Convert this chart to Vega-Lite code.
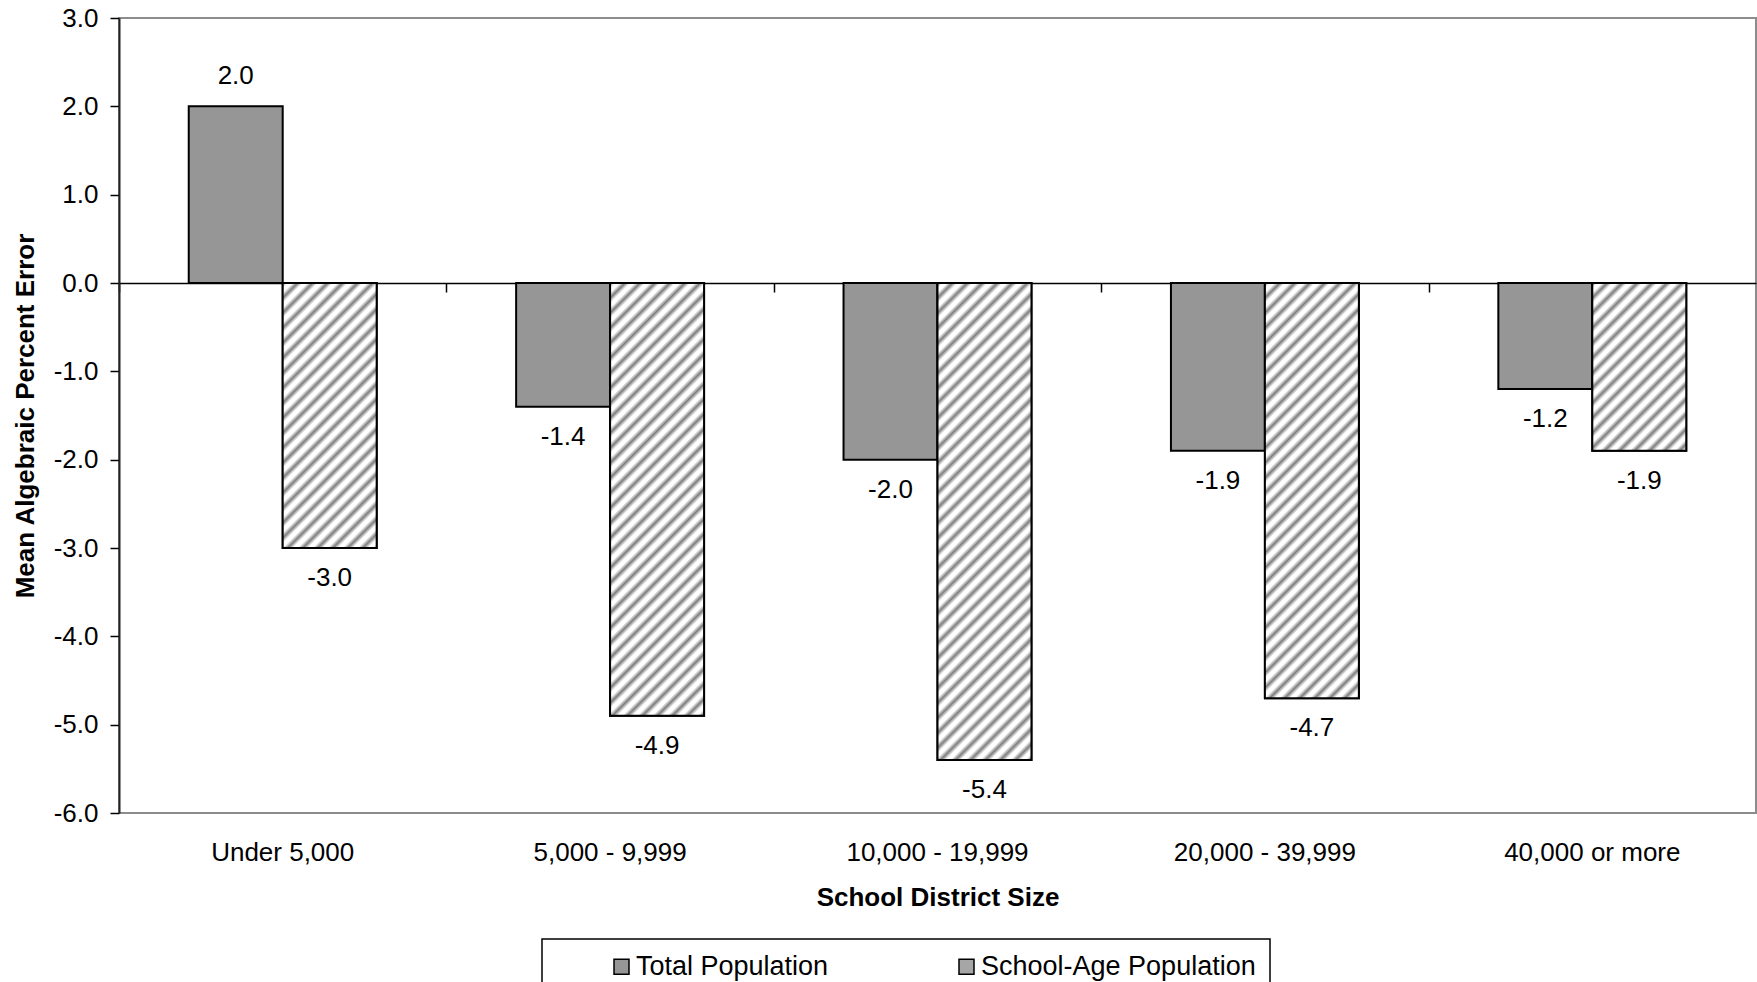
{
  "$schema": "https://vega.github.io/schema/vega-lite/v6.json",
  "width": 1637,
  "height": 795,
  "autosize": {"type": "none"},
  "padding": {"left": 119, "top": 18, "right": 1, "bottom": 169},
  "background": "white",
  "config": {
    "font": "Liberation Sans",
    "view": {"stroke": "#8c8c8c", "strokeWidth": 2},
    "axis": {"labelColor": "black", "titleColor": "black", "grid": false},
    "locale": {"number": {"decimal": ".", "thousands": ",", "grouping": [3], "currency": ["$", ""], "minus": "-"}}
  },
  "params": [
    {
      "name": "hatchStops",
      "value": [
        {"offset": 0, "color": "#7d7d7d"}, {"offset": 0.007, "color": "#ffffff"}, {"offset": 0.013, "color": "#ffffff"},
        {"offset": 0.02, "color": "#7d7d7d"}, {"offset": 0.027, "color": "#ffffff"}, {"offset": 0.033, "color": "#ffffff"},
        {"offset": 0.04, "color": "#7d7d7d"}, {"offset": 0.047, "color": "#ffffff"}, {"offset": 0.053, "color": "#ffffff"},
        {"offset": 0.06, "color": "#7d7d7d"}, {"offset": 0.067, "color": "#ffffff"}, {"offset": 0.073, "color": "#ffffff"},
        {"offset": 0.08, "color": "#7d7d7d"}, {"offset": 0.087, "color": "#ffffff"}, {"offset": 0.093, "color": "#ffffff"},
        {"offset": 0.1, "color": "#7d7d7d"}, {"offset": 0.107, "color": "#ffffff"}, {"offset": 0.113, "color": "#ffffff"},
        {"offset": 0.12, "color": "#7d7d7d"}, {"offset": 0.127, "color": "#ffffff"}, {"offset": 0.133, "color": "#ffffff"},
        {"offset": 0.14, "color": "#7d7d7d"}, {"offset": 0.147, "color": "#ffffff"}, {"offset": 0.153, "color": "#ffffff"},
        {"offset": 0.16, "color": "#7d7d7d"}, {"offset": 0.167, "color": "#ffffff"}, {"offset": 0.173, "color": "#ffffff"},
        {"offset": 0.18, "color": "#7d7d7d"}, {"offset": 0.187, "color": "#ffffff"}, {"offset": 0.193, "color": "#ffffff"},
        {"offset": 0.2, "color": "#7d7d7d"}, {"offset": 0.207, "color": "#ffffff"}, {"offset": 0.213, "color": "#ffffff"},
        {"offset": 0.22, "color": "#7d7d7d"}, {"offset": 0.227, "color": "#ffffff"}, {"offset": 0.233, "color": "#ffffff"},
        {"offset": 0.24, "color": "#7d7d7d"}, {"offset": 0.247, "color": "#ffffff"}, {"offset": 0.253, "color": "#ffffff"},
        {"offset": 0.26, "color": "#7d7d7d"}, {"offset": 0.267, "color": "#ffffff"}, {"offset": 0.273, "color": "#ffffff"},
        {"offset": 0.28, "color": "#7d7d7d"}, {"offset": 0.287, "color": "#ffffff"}, {"offset": 0.293, "color": "#ffffff"},
        {"offset": 0.3, "color": "#7d7d7d"}, {"offset": 0.307, "color": "#ffffff"}, {"offset": 0.313, "color": "#ffffff"},
        {"offset": 0.32, "color": "#7d7d7d"}, {"offset": 0.327, "color": "#ffffff"}, {"offset": 0.333, "color": "#ffffff"},
        {"offset": 0.34, "color": "#7d7d7d"}, {"offset": 0.347, "color": "#ffffff"}, {"offset": 0.353, "color": "#ffffff"},
        {"offset": 0.36, "color": "#7d7d7d"}, {"offset": 0.367, "color": "#ffffff"}, {"offset": 0.373, "color": "#ffffff"},
        {"offset": 0.38, "color": "#7d7d7d"}, {"offset": 0.387, "color": "#ffffff"}, {"offset": 0.393, "color": "#ffffff"},
        {"offset": 0.4, "color": "#7d7d7d"}, {"offset": 0.407, "color": "#ffffff"}, {"offset": 0.413, "color": "#ffffff"},
        {"offset": 0.42, "color": "#7d7d7d"}, {"offset": 0.427, "color": "#ffffff"}, {"offset": 0.433, "color": "#ffffff"},
        {"offset": 0.44, "color": "#7d7d7d"}, {"offset": 0.447, "color": "#ffffff"}, {"offset": 0.453, "color": "#ffffff"},
        {"offset": 0.46, "color": "#7d7d7d"}, {"offset": 0.467, "color": "#ffffff"}, {"offset": 0.473, "color": "#ffffff"},
        {"offset": 0.48, "color": "#7d7d7d"}, {"offset": 0.487, "color": "#ffffff"}, {"offset": 0.493, "color": "#ffffff"},
        {"offset": 0.5, "color": "#7d7d7d"}, {"offset": 0.507, "color": "#ffffff"}, {"offset": 0.513, "color": "#ffffff"},
        {"offset": 0.52, "color": "#7d7d7d"}, {"offset": 0.527, "color": "#ffffff"}, {"offset": 0.533, "color": "#ffffff"},
        {"offset": 0.54, "color": "#7d7d7d"}, {"offset": 0.547, "color": "#ffffff"}, {"offset": 0.553, "color": "#ffffff"},
        {"offset": 0.56, "color": "#7d7d7d"}, {"offset": 0.567, "color": "#ffffff"}, {"offset": 0.573, "color": "#ffffff"},
        {"offset": 0.58, "color": "#7d7d7d"}, {"offset": 0.587, "color": "#ffffff"}, {"offset": 0.593, "color": "#ffffff"},
        {"offset": 0.6, "color": "#7d7d7d"}, {"offset": 0.607, "color": "#ffffff"}, {"offset": 0.613, "color": "#ffffff"},
        {"offset": 0.62, "color": "#7d7d7d"}, {"offset": 0.627, "color": "#ffffff"}, {"offset": 0.633, "color": "#ffffff"},
        {"offset": 0.64, "color": "#7d7d7d"}, {"offset": 0.647, "color": "#ffffff"}, {"offset": 0.653, "color": "#ffffff"},
        {"offset": 0.66, "color": "#7d7d7d"}, {"offset": 0.667, "color": "#ffffff"}, {"offset": 0.673, "color": "#ffffff"},
        {"offset": 0.68, "color": "#7d7d7d"}, {"offset": 0.687, "color": "#ffffff"}, {"offset": 0.693, "color": "#ffffff"},
        {"offset": 0.7, "color": "#7d7d7d"}, {"offset": 0.707, "color": "#ffffff"}, {"offset": 0.713, "color": "#ffffff"},
        {"offset": 0.72, "color": "#7d7d7d"}, {"offset": 0.727, "color": "#ffffff"}, {"offset": 0.733, "color": "#ffffff"},
        {"offset": 0.74, "color": "#7d7d7d"}, {"offset": 0.747, "color": "#ffffff"}, {"offset": 0.753, "color": "#ffffff"},
        {"offset": 0.76, "color": "#7d7d7d"}, {"offset": 0.767, "color": "#ffffff"}, {"offset": 0.773, "color": "#ffffff"},
        {"offset": 0.78, "color": "#7d7d7d"}, {"offset": 0.787, "color": "#ffffff"}, {"offset": 0.793, "color": "#ffffff"},
        {"offset": 0.8, "color": "#7d7d7d"}, {"offset": 0.807, "color": "#ffffff"}, {"offset": 0.813, "color": "#ffffff"},
        {"offset": 0.82, "color": "#7d7d7d"}, {"offset": 0.827, "color": "#ffffff"}, {"offset": 0.833, "color": "#ffffff"},
        {"offset": 0.84, "color": "#7d7d7d"}, {"offset": 0.847, "color": "#ffffff"}, {"offset": 0.853, "color": "#ffffff"},
        {"offset": 0.86, "color": "#7d7d7d"}, {"offset": 0.867, "color": "#ffffff"}, {"offset": 0.873, "color": "#ffffff"},
        {"offset": 0.88, "color": "#7d7d7d"}, {"offset": 0.887, "color": "#ffffff"}, {"offset": 0.893, "color": "#ffffff"},
        {"offset": 0.9, "color": "#7d7d7d"}, {"offset": 0.907, "color": "#ffffff"}, {"offset": 0.913, "color": "#ffffff"},
        {"offset": 0.92, "color": "#7d7d7d"}, {"offset": 0.927, "color": "#ffffff"}, {"offset": 0.933, "color": "#ffffff"},
        {"offset": 0.94, "color": "#7d7d7d"}, {"offset": 0.947, "color": "#ffffff"}, {"offset": 0.953, "color": "#ffffff"},
        {"offset": 0.96, "color": "#7d7d7d"}, {"offset": 0.967, "color": "#ffffff"}, {"offset": 0.973, "color": "#ffffff"},
        {"offset": 0.98, "color": "#7d7d7d"}, {"offset": 0.987, "color": "#ffffff"}, {"offset": 0.993, "color": "#ffffff"},
        {"offset": 1, "color": "#7d7d7d"}
      ]
    }
  ],
  "data": {
    "values": [
      {"size": "Under 5,000", "series": "Total Population", "value": 2.0},
      {"size": "Under 5,000", "series": "School-Age Population", "value": -3.0},
      {"size": "5,000 - 9,999", "series": "Total Population", "value": -1.4},
      {"size": "5,000 - 9,999", "series": "School-Age Population", "value": -4.9},
      {"size": "10,000 - 19,999", "series": "Total Population", "value": -2.0},
      {"size": "10,000 - 19,999", "series": "School-Age Population", "value": -5.4},
      {"size": "20,000 - 39,999", "series": "Total Population", "value": -1.9},
      {"size": "20,000 - 39,999", "series": "School-Age Population", "value": -4.7},
      {"size": "40,000 or more", "series": "Total Population", "value": -1.2},
      {"size": "40,000 or more", "series": "School-Age Population", "value": -1.9}
    ]
  },
  "resolve": {"axis": {"x": "independent"}},
  "layer": [
    {
      "mark": {"type": "bar", "stroke": "black", "strokeWidth": 2},
      "encoding": {
        "x": {
          "field": "size", "type": "nominal",
          "sort": ["Under 5,000", "5,000 - 9,999", "10,000 - 19,999", "20,000 - 39,999", "40,000 or more"],
          "scale": {"paddingInner": 0.426, "paddingOuter": 0.213},
          "axis": {
            "orient": "bottom", "domain": false, "ticks": false, "tickSize": 0,
            "labelAngle": 0, "labelFontSize": 26, "labelPadding": 26, "labelLimit": 400,
            "title": "School District Size", "titleFontSize": 26, "titleFontWeight": "bold", "titlePadding": 19
          }
        },
        "xOffset": {
          "field": "series", "type": "nominal",
          "sort": ["Total Population", "School-Age Population"],
          "scale": {"paddingInner": 0, "paddingOuter": 0}
        },
        "y": {
          "field": "value", "type": "quantitative",
          "scale": {"domain": [-6, 3], "nice": false, "zero": false},
          "axis": {
            "title": "Mean Algebraic Percent Error", "titleFontSize": 26, "titleFontWeight": "bold", "titlePadding": 15,
            "values": [-6, -5, -4, -3, -2, -1, 0, 1, 2, 3], "format": ".1f",
            "labelFontSize": 26, "labelPadding": 12,
            "tickSize": 9, "tickColor": "black", "tickWidth": 1.5,
            "domainColor": "#222222", "domainWidth": 2
          }
        },
        "fill": {
          "field": "series", "type": "nominal",
          "sort": ["Total Population", "School-Age Population"],
          "scale": {"domain": ["Total Population", "School-Age Population"], "range": ["#969696", "#a6a6a6"]},
          "legend": {
            "orient": "none", "legendX": 423, "legendY": 921,
            "direction": "horizontal", "title": null,
            "padding": 14, "strokeColor": "black",
            "symbolType": "square", "symbolSize": 225, "symbolOffset": 52,
            "symbolStrokeColor": "black", "symbolStrokeWidth": 1.5,
            "labelFontSize": 27, "labelColor": "black", "labelOffset": 1, "labelLimit": 500,
            "columnPadding": 72,
            "encode": {
              "legend": {"update": {"strokeWidth": {"value": 1.5}}},
              "symbols": {
                "update": {
                  "stroke": {"value": "black"},
                  "strokeWidth": {"value": 1.5}
                }
              }
            }
          }
        }
      }
    },
    {
      "transform": [{"filter": "datum.series === 'School-Age Population'"}],
      "mark": {
        "type": "bar", "stroke": "black", "strokeWidth": 2,
        "fill": {"expr": "{gradient: 'linear', x1: 0, y1: 0, x2: 750 * bandwidth('xOffset') / (pow(bandwidth('xOffset'), 2) + pow(scale('y', datum.value) - scale('y', 0), 2)), y2: 750 * abs(scale('y', datum.value) - scale('y', 0)) / (pow(bandwidth('xOffset'), 2) + pow(scale('y', datum.value) - scale('y', 0), 2)), stops: hatchStops}"}
      },
      "encoding": {
        "x": {
          "field": "size", "type": "nominal",
          "sort": ["Under 5,000", "5,000 - 9,999", "10,000 - 19,999", "20,000 - 39,999", "40,000 or more"],
          "axis": {
            "orient": "bottom", "offset": -530, "labels": false, "title": null,
            "domain": true, "domainColor": "black", "domainWidth": 1.5,
            "ticks": true, "tickOffset": -163.7, "tickSize": 9, "tickColor": "black", "tickWidth": 1.5
          }
        },
        "xOffset": {"field": "series", "type": "nominal", "sort": ["Total Population", "School-Age Population"]},
        "y": {"field": "value", "type": "quantitative"}
      }
    },
    {
      "transform": [{"filter": "datum.value >= 0"}],
      "mark": {"type": "text", "fontSize": 26, "baseline": "middle", "dy": -30, "color": "black"},
      "encoding": {
        "x": {"field": "size", "type": "nominal", "sort": ["Under 5,000", "5,000 - 9,999", "10,000 - 19,999", "20,000 - 39,999", "40,000 or more"], "axis": null},
        "xOffset": {"field": "series", "type": "nominal", "sort": ["Total Population", "School-Age Population"]},
        "y": {"field": "value", "type": "quantitative"},
        "text": {"field": "value", "type": "quantitative", "format": ".1f"}
      }
    },
    {
      "transform": [{"filter": "datum.value < 0"}],
      "mark": {"type": "text", "fontSize": 26, "baseline": "middle", "dy": 30, "color": "black"},
      "encoding": {
        "x": {"field": "size", "type": "nominal", "sort": ["Under 5,000", "5,000 - 9,999", "10,000 - 19,999", "20,000 - 39,999", "40,000 or more"], "axis": null},
        "xOffset": {"field": "series", "type": "nominal", "sort": ["Total Population", "School-Age Population"]},
        "y": {"field": "value", "type": "quantitative"},
        "text": {"field": "value", "type": "quantitative", "format": ".1f"}
      }
    }
  ]
}
